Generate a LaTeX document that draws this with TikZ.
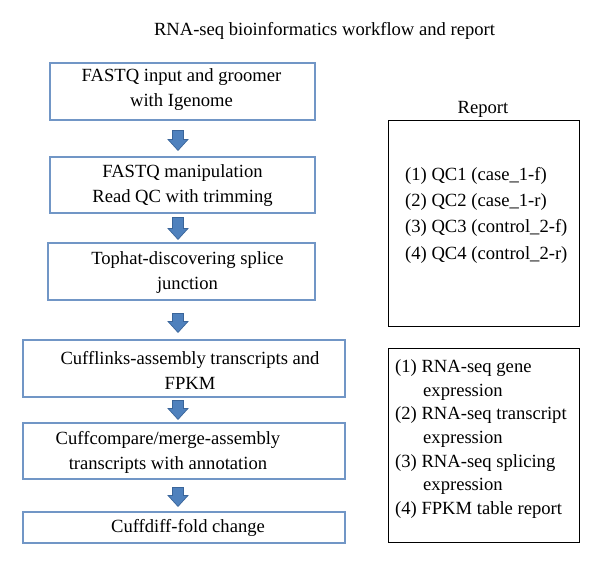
\documentclass[tikz,border=0pt]{standalone}
\usepackage{fontspec}
\setmainfont{Liberation Serif}
\usetikzlibrary{calc}
\definecolor{boxblue}{HTML}{7196C6}
\definecolor{arrfill}{HTML}{4F81BD}
\definecolor{arrline}{HTML}{3A659A}
\begin{document}
\begin{tikzpicture}[x=1pt,y=-1pt,
  every node/.style={inner sep=0pt, font=\fontsize{18.6}{25}\selectfont},
  box/.style={draw=boxblue, line width=1.1pt},
  rbox/.style={draw=black, line width=0.9pt},
  txt/.style={align=center},
  fatarrow/.style={fill=arrfill, draw=arrline, line width=0.7pt, line join=miter,
    to path={let \p1=(\tikztostart), \p2=(\tikztotarget) in
      (\x1-5.5pt,\y1) -- (\x1+5.5pt,\y1) -- (\x1+5.5pt,\y2+11pt) -- (\x1+10pt,\y2+11pt)
      -- (\x1,\y2) -- (\x1-10pt,\y2+11pt) -- (\x1-5.5pt,\y2+11pt) -- cycle}}]
\useasboundingbox (0,0) rectangle (600,565);
\fill[white] (0,0) rectangle (600,565);

% title
\node[anchor=base] (title) at (324.5,35) {RNA-seq bioinformatics workflow and report};

% workflow boxes
\node[box, minimum width=265pt, minimum height=57pt] (b1) at (182.5,91.5) {};
\node[box, minimum width=265pt, minimum height=56pt] (b2) at (182.5,185) {};
\node[box, minimum width=267pt, minimum height=57pt] (b3) at (181.5,271.5) {};
\node[box, minimum width=322pt, minimum height=57pt] (b4) at (184,368.5) {};
\node[box, minimum width=322pt, minimum height=56pt] (b5) at (184,451) {};
\node[box, minimum width=322pt, minimum height=31pt] (b6) at (184,527.5) {};

\node[txt] (t1) at ([xshift=-1pt,yshift=2pt]b1.center) {FASTQ input and groomer\\with Igenome};
\node[txt] (t2) at ([yshift=-0.5pt]b2.center) {FASTQ manipulation\\Read QC with trimming};
\node[txt] (t3) at ([xshift=6pt,yshift=-1pt]b3.center) {Tophat-discovering splice\\junction};
\node[txt] (t4) at ([xshift=6pt,yshift=-2pt]b4.center) {Cufflinks-assembly transcripts and\\FPKM};
\node[txt] (t5) at ([xshift=-16pt,yshift=-1pt]b5.center) {Cuffcompare/merge-assembly\\transcripts with annotation};
\node[txt] (t6) at ([xshift=4pt]b6.center) {Cuffdiff-fold change};

% arrow axis
\coordinate (ax) at (178,0);
\coordinate (a1s) at ($(b1.south -| ax)+(0,10)$);
\coordinate (a1e) at ($(b2.north -| ax)+(0,-6)$);
\coordinate (a2s) at ($(b2.south -| ax)+(0,4)$);
\coordinate (a2e) at ($(b3.north -| ax)+(0,-3)$);
\coordinate (a3s) at ($(b3.south -| ax)+(0,13)$);
\coordinate (a3e) at ($(b4.north -| ax)+(0,-7)$);
\coordinate (a4s) at ($(b4.south -| ax)+(0,3)$);
\coordinate (a4e) at ($(b5.north -| ax)+(0,-3)$);
\coordinate (a5s) at ($(b5.south -| ax)+(0,8)$);
\coordinate (a5e) at ($(b6.north -| ax)+(0,-5)$);
\draw[fatarrow] (a1s) to (a1e);
\draw[fatarrow] (a2s) to (a2e);
\draw[fatarrow] (a3s) to (a3e);
\draw[fatarrow] (a4s) to (a4e);
\draw[fatarrow] (a5s) to (a5e);

% report boxes
\node[anchor=base] (rep) at (483,113) {Report};
\node[rbox, minimum width=191pt, minimum height=206pt] (r1) at (483.5,223) {};
\node[rbox, minimum width=191pt, minimum height=194pt] (r2) at (483.5,445) {};

\node[anchor=west, align=left, font=\fontsize{18.6}{26.3}\selectfont] (r1t) at (405,215)
  {(1) QC1 (case\_1-f)\\(2) QC2 (case\_1-r)\\(3) QC3 (control\_2-f)\\(4) QC4 (control\_2-r)};
\node[anchor=west, align=left, font=\fontsize{18.6}{23.7}\selectfont] (r2t) at (395,439)
  {(1) RNA-seq gene\\\hspace*{28pt}expression\\(2) RNA-seq transcript\\\hspace*{28pt}expression\\(3) RNA-seq splicing\\\hspace*{28pt}expression\\(4) FPKM table report};
\end{tikzpicture}
\end{document}
